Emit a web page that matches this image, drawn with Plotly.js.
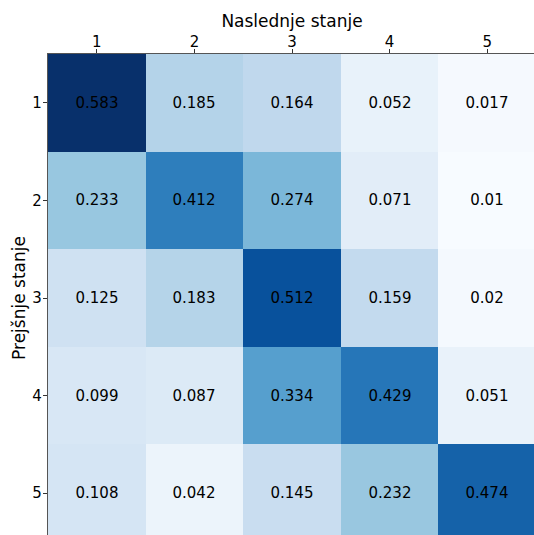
<!DOCTYPE html>
<html>
<head>
<meta charset="utf-8">
<script src="https://cdn.plot.ly/plotly-3.0.1.min.js"></script>
<style>
html, body { margin: 0; padding: 0; overflow: hidden; background: #fff; }
#chart { width: 536px; height: 542px; }
</style>
</head>
<body>
<div id="chart"></div>
<script>
const states = [1, 2, 3, 4, 5];
const tickLabels = ["1", "2", "3", "4", "5"];
const row1 = [0.583, 0.185, 0.164, 0.052, 0.017];
const row2 = [0.233, 0.412, 0.274, 0.071, 0.01];
const row3 = [0.125, 0.183, 0.512, 0.159, 0.02];
const row4 = [0.099, 0.087, 0.334, 0.429, 0.051];
const row5 = [0.108, 0.042, 0.145, 0.232, 0.474];
const matrix = [row1, row2, row3, row4, row5];

const blues = ["#f7fbff", "#deebf7", "#c6dbef", "#9ecae1", "#6baed6", "#4292c6", "#2171b5", "#08519c", "#08306b"];
const colorscale = blues.map((c, i) => [i / (blues.length - 1), c]);
const allVals = matrix.flat();

const trace = {
  type: "heatmap",
  x: states,
  y: states,
  z: matrix,
  text: matrix.map(r => r.map(v => String(v))),
  texttemplate: "%{text}",
  textfont: { family: "DejaVu Sans", size: 15, color: "#000" },
  colorscale: colorscale,
  zmin: Math.min(...allVals),
  zmax: Math.max(...allVals),
  showscale: false,
  xgap: 0, ygap: 0,
  hoverinfo: "skip"
};

const axisCommon = {
  tickmode: "array",
  tickvals: states,
  ticktext: tickLabels,
  ticks: "outside",
  ticklen: 4,
  tickwidth: 1,
  tickcolor: "#333",
  showline: true,
  linecolor: "#555",
  linewidth: 1.2,
  showgrid: false,
  zeroline: false,
  tickfont: { family: "DejaVu Sans", size: 15, color: "#000" },
  range: [0.5, 5.5],
  fixedrange: true
};

const layout = {
  width: 536,
  height: 542,
  autosize: false,
  margin: { l: 48, r: 0, t: 54, b: 0, pad: 0 },
  paper_bgcolor: "#fff",
  plot_bgcolor: "#fff",
  xaxis: Object.assign({}, axisCommon, {
    side: "top",
    ticklabelstandoff: -4,
    title: { text: "Naslednje stanje", font: { family: "DejaVu Sans", size: 17, color: "#000" }, standoff: 0 }
  }),
  yaxis: Object.assign({}, axisCommon, {
    range: [5.5, 0.5],
    ticklabelstandoff: -2,
    title: { text: "Prejšnje stanje", font: { family: "DejaVu Sans", size: 17, color: "#000" }, standoff: 2 }
  }),
  font: { family: "DejaVu Sans" }
};

Plotly.newPlot("chart", [trace], layout, { displayModeBar: false, staticPlot: true });
</script>
</body>
</html>
